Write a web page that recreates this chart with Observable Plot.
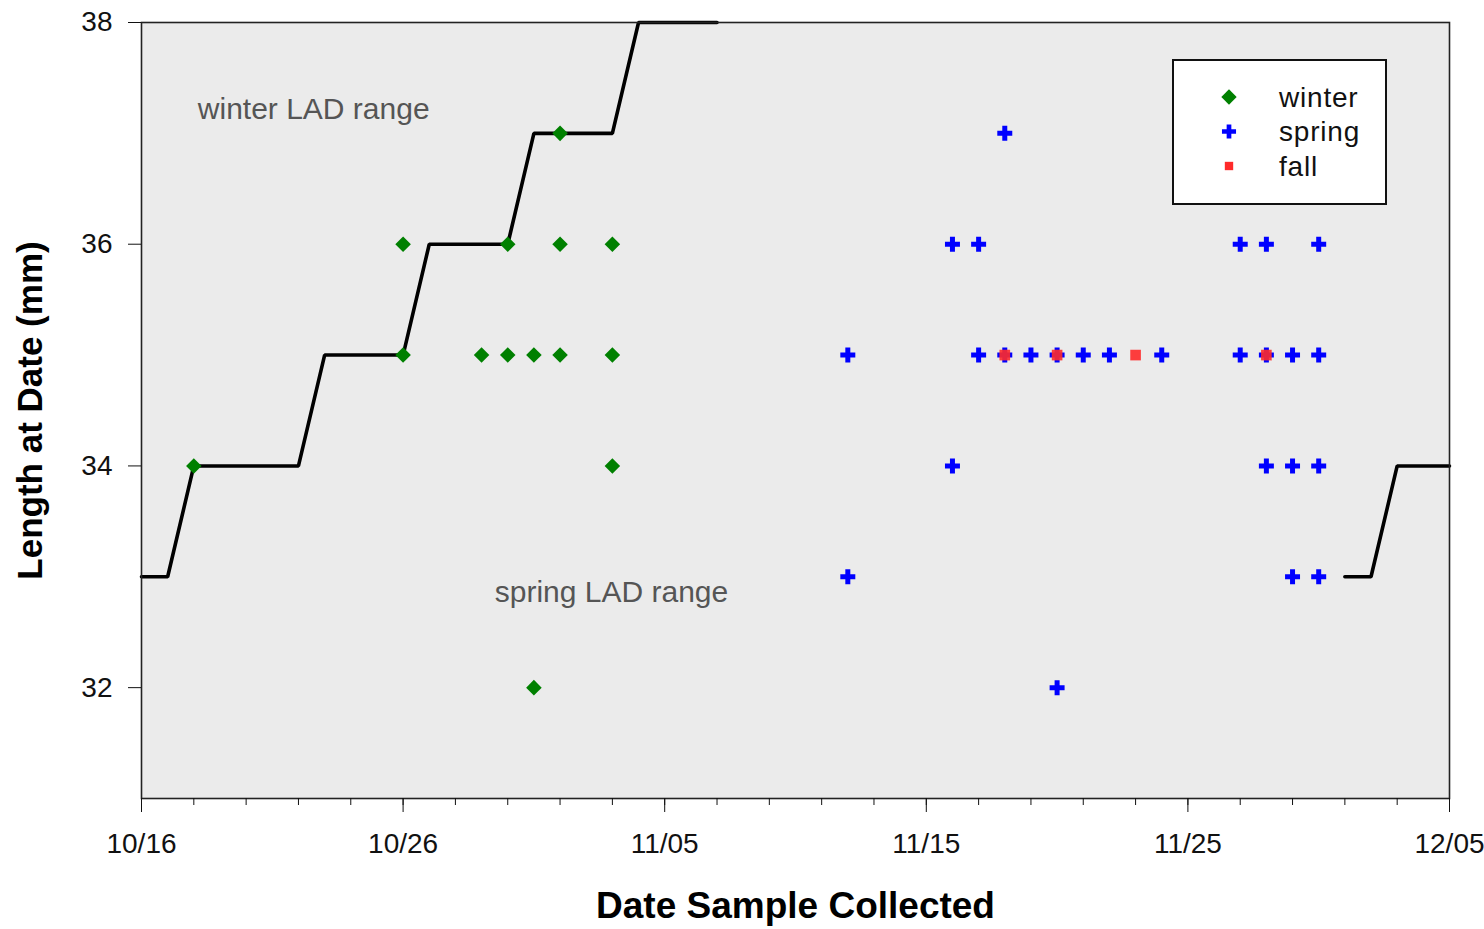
<!DOCTYPE html>
<html>
<head>
<meta charset="utf-8">
<script src="https://cdn.jsdelivr.net/npm/d3@7"></script>
<script src="https://cdn.jsdelivr.net/npm/@observablehq/plot@0.6"></script>
<style>
  body { margin: 0; background: #fff; }
  #wrap { position: relative; width: 1484px; height: 929px; }
  #legend { position: absolute; left: 1172px; top: 59px; }
</style>
</head>
<body>
<div id="wrap"></div>
<script>
// ---- data (month/day strings, lengths in mm) ----
const year = 2001;
const winterDates   = ["10/18","10/26","10/26","10/29","10/30","10/30","10/31","10/31","11/01","11/01","11/01","11/03","11/03","11/03"];
const winterLengths = [34, 36, 35, 35, 36, 35, 35, 32, 37, 36, 35, 36, 35, 34];

const springDates   = ["11/12","11/12","11/16","11/16","11/17","11/17","11/18","11/18","11/19","11/20","11/20","11/21","11/22","11/24","11/27","11/27","11/28","11/28","11/28","11/29","11/29","11/29","11/30","11/30","11/30","11/30"];
const springLengths = [35, 33, 36, 34, 36, 35, 37, 35, 35, 35, 32, 35, 35, 35, 36, 35, 36, 35, 34, 35, 34, 33, 36, 35, 34, 33];

const fallDates   = ["11/18","11/20","11/23","11/28"];
const fallLengths = [35, 35, 35, 35];

// LAD range boundary lines
const winterLadDates   = ["10/16","10/17","10/18","10/22","10/23","10/26","10/27","10/30","10/31","11/03","11/04","11/07"];
const winterLadLengths = [33, 33, 34, 34, 35, 35, 36, 36, 37, 37, 38, 38];
const springLadDates   = ["12/01","12/02","12/03","12/05"];
const springLadLengths = [33, 33, 34, 34];

const majorTickLabels = ["10/16","10/26","11/05","11/15","11/25","12/05"];
const yTicks = [32, 34, 36, 38];
const xDomainLabels = ["10/16","12/05"];
const yDomain = [31, 38];

const annotationTexts   = ["winter LAD range", "spring LAD range"];
const annotationDates   = ["10/18", "10/30"];
const annotationLengths = [37.22, 32.86];

const seasons = ["winter", "spring", "fall"];
const seasonColors = ["#008000", "#0000FF", "#FF2A2A"];
const seasonSymbols = ["diamond2", "cross", "square"];

// ---- build tables ----
const parse = s => { const [m, d] = s.split("/").map(Number); return new Date(Date.UTC(year, m - 1, d)); };
const rows = (dates, lengths, season) => dates.map((d, i) => ({date: parse(d), length: lengths[i], season}));
const winter = rows(winterDates, winterLengths, "winter");
const spring = rows(springDates, springLengths, "spring");
const fall = rows(fallDates, fallLengths, "fall");
const lad = [...rows(winterLadDates, winterLadLengths, "winterLAD"), ...rows(springLadDates, springLadLengths, "springLAD")];
const [x0, x1] = xDomainLabels.map(parse);
const majorTicks = majorTickLabels.map(parse);
const minorTicks = d3.utcDay.range(x0, d3.utcDay.offset(x1, 1), 1).filter((d, i) => i % 2 === 0);
const notes = annotationTexts.map((t, i) => ({text: t, date: parse(annotationDates[i]), length: annotationLengths[i]}));

const font = '"Liberation Sans", Arial, sans-serif';

const chart = Plot.plot({
  width: 1484,
  height: 929,
  marginLeft: 141,
  marginRight: 35,
  marginTop: 22,
  marginBottom: 131,
  style: {fontFamily: font, background: "#fff", color: "#111"},
  x: {type: "utc", domain: [x0, x1]},
  y: {domain: yDomain},
  marks: [
    Plot.frame({fill: "#EBEBEB", stroke: null}),
    Plot.line(lad, {x: "date", y: "length", z: "season", stroke: "#000", strokeWidth: 3.6, strokeLinejoin: "miter"}),
    Plot.dot(winter, {x: "date", y: "length", symbol: () => seasonSymbols[0], fill: seasonColors[0], stroke: null, r: 7}),
    Plot.dot(spring, {x: "date", y: "length", symbol: () => seasonSymbols[1], fill: seasonColors[1], stroke: null, r: 6.3}),
    Plot.dot(fall, {x: "date", y: "length", symbol: () => seasonSymbols[2], fill: seasonColors[2], fillOpacity: 0.9, stroke: null, r: 6}),
    Plot.text(notes.slice(0, 1), {x: "date", y: "length", text: "text", textAnchor: "start", dx: 4, fontSize: 30, fill: "#555"}),
    Plot.text(notes.slice(1), {x: "date", y: "length", text: "text", textAnchor: "start", dx: -13, fontSize: 30, fill: "#555"}),
    Plot.frame({stroke: "#222", strokeWidth: 1.6}),
    Plot.axisX({ticks: minorTicks, tickSize: 7, tickFormat: () => "", label: null, stroke: "#111"}),
    Plot.axisX({ticks: majorTicks, tickSize: 14, tickPadding: 21, tickFormat: d3.utcFormat("%m/%d"), fontSize: 28, label: null, stroke: "#111"}),
    Plot.axisY({ticks: yTicks, tickSize: 13, tickPadding: 16, tickFormat: "d", fontSize: 28, label: null, stroke: "#111"}),
    Plot.text(["Date Sample Collected"], {frameAnchor: "bottom", dy: 119, text: d => d, fontSize: 37, fontWeight: "bold", fill: "#000"}),
    Plot.text(["Length at Date (mm)"], {frameAnchor: "left", textAnchor: "middle", dx: -111, rotate: -90, text: d => d, fontSize: 35, fontWeight: "bold", fill: "#000"})
  ]
});

const wrap = document.getElementById("wrap");
wrap.appendChild(chart);

// ---- legend (overlay inside plot area) ----
const lw = 215, lh = 146;
const leg = d3.select(wrap).append("svg").attr("id", "legend").attr("width", lw).attr("height", lh);
leg.append("rect").attr("x", 1).attr("y", 1).attr("width", lw - 2).attr("height", lh - 2)
  .attr("fill", "#fff").attr("stroke", "#111").attr("stroke-width", 2);
const symMap = {diamond2: d3.symbolDiamond2, cross: d3.symbolCross, square: d3.symbolSquare};
const symSize = {diamond2: 150, cross: 110, square: 70};
seasons.forEach((s, i) => {
  const y = 38 + i * 34.5;
  leg.append("path")
    .attr("transform", `translate(57,${y})`)
    .attr("d", d3.symbol(symMap[seasonSymbols[i]], symSize[seasonSymbols[i]])())
    .attr("fill", seasonColors[i]);
  leg.append("text").attr("x", 107).attr("y", y).attr("dy", "0.35em")
    .attr("font-family", font).attr("font-size", 28).attr("letter-spacing", 0.8).attr("fill", "#111").text(s);
});
</script>
</body>
</html>
